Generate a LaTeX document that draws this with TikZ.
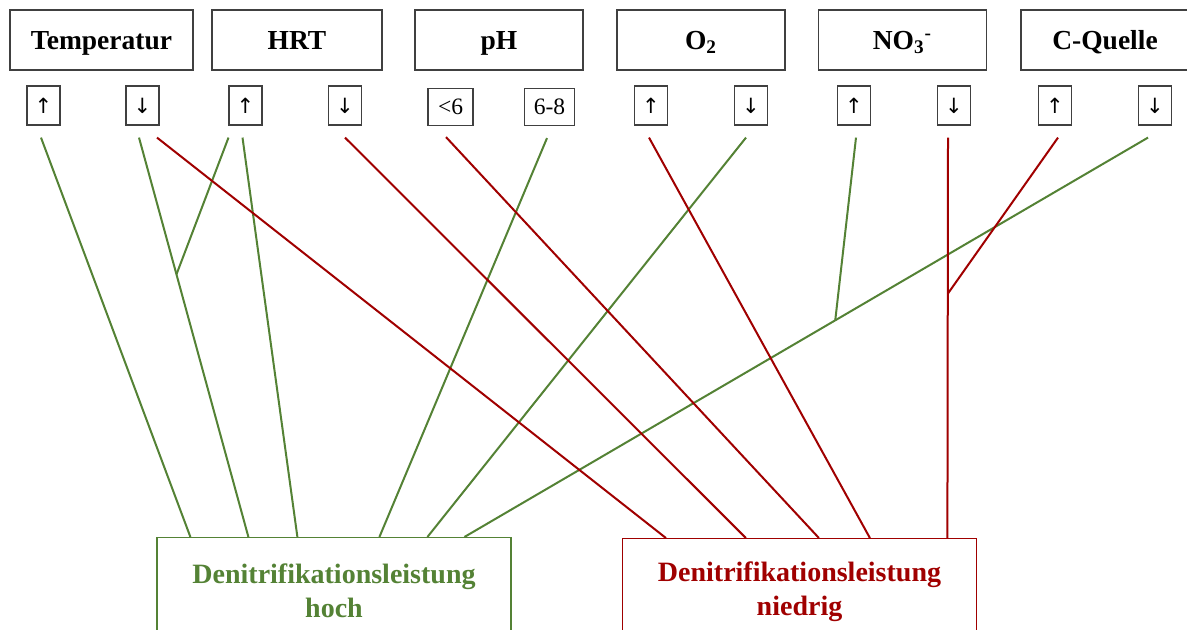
\documentclass[tikz,border=0pt]{standalone}
\usepackage{fontspec}
\setmainfont{Liberation Serif}
\newfontfamily\arrowfont{DejaVu Sans}
\usetikzlibrary{calc}

\definecolor{hochgreen}{RGB}{84,130,53}
\definecolor{niedrigred}{RGB}{160,0,0}
\tikzset{
  factor/.style={draw=black!75,line width=0.7pt,minimum height=30pt,inner sep=0pt,
    text height=9.5pt,text depth=0pt,font=\fontsize{13.75}{16}\selectfont\bfseries},
  trend/.style={draw=black!75,line width=0.6pt,minimum width=16.5pt,minimum height=19.5pt,
    inner sep=0pt,font=\arrowfont\fontsize{10.5}{12}\selectfont},
  phrange/.style={draw=black!75,line width=0.6pt,minimum height=18.5pt,inner sep=0pt,
    font=\fontsize{11.75}{14}\selectfont},
  result/.style={draw,line width=0.6pt,minimum width=177pt,minimum height=53pt,
    align=center,font=\fontsize{14}{17}\selectfont\bfseries},
  hochline/.style={hochgreen,line width=1pt},
  niedrigline/.style={niedrigred,line width=1pt},
}

\begin{document}
\begin{tikzpicture}[x=0.5pt,y=-0.5pt]
  \clip (0,0) rectangle (1187,630);
  % factors
  \node[factor,minimum width=91.5pt] (temp) at (101.5,40) {Temperatur};
  \node[factor,minimum width=85pt] (hrt) at (297,40) {HRT};
  \node[factor,minimum width=84pt] (ph) at (499,40) {pH};
  \node[factor,minimum width=84pt] (otwo) at (701,40) {O\textsubscript{2}};
  \node[factor,minimum width=84pt] (nodrei) at (902.5,40) {NO\textsubscript{3}\textsuperscript{-}};
  \node[factor,minimum width=84pt] (cq) at (1105,40) {C-Quelle};
  % up / down
  \foreach \name/\x/\sym in {tu/43.5/↑,td/142.5/↓,hu/245.5/↑,hd/345/↓,
      ou/651/↑,od/751/↓,nu/854/↑,nd/954/↓,cu/1055/↑,cd/1155/↓}
    \node[trend] (\name) at (\x,105.5) {\sym};
  \node[phrange,minimum width=22.5pt] (pl) at (450.5,107) {<6};
  \node[phrange,minimum width=25pt] (pm) at (549.5,107) {6-8};
  % results
  \node[result,draw=hochgreen,text=hochgreen,anchor=north] (hoch) at (334,537)
    {Denitrifikationsleistung\\hoch};
  \node[result,draw=niedrigred,text=niedrigred,anchor=north] (niedrig) at (799.5,538)
    {Denitrifikationsleistung\\niedrig};
  % green connectors
  \draw[hochline] ($(tu.south)+(-2.5,12)$) -- ($(hoch.north west)+(34,0)$);
  \draw[hochline] ($(td.south)+(-3.5,12)$) -- ($(hoch.north west)+(92,0)$);
  \coordinate (jtd) at ($($(td.south)+(-3.5,12)$)!0.3425!($(hoch.north west)+(92,0)$)$);
  \draw[hochline] ($(hu.south)+(-17,12)$) -- (jtd);
  \draw[hochline] ($(hu.south)+(-3,12)$) -- ($(hoch.north west)+(141,0)$);
  \draw[hochline] ($(pm.south)+(-2.5,12)$) -- ($(hoch.north west)+(223,0)$);
  \draw[hochline] ($(od.south)+(-5,12)$) -- ($(hoch.north west)+(271,0)$);
  \draw[hochline] ($(cd.south)+(-7,12)$) -- ($(hoch.north west)+(308,0)$);
  \coordinate (jcd) at ($($(cd.south)+(-7,12)$)!0.4575!($(hoch.north west)+(308,0)$)$);
  \draw[hochline] ($(nu.south)+(2,12)$) -- (jcd);
  % red connectors
  \draw[niedrigline] ($(td.south)+(14.5,12)$) -- ($(niedrig.north west)+(44,0)$);
  \draw[niedrigline] ($(hd.south)+(0,12)$) -- ($(niedrig.north west)+(124,0)$);
  \draw[niedrigline] ($(pl.south)+(-4.5,11)$) -- ($(niedrig.north west)+(197,0)$);
  \draw[niedrigline] ($(ou.south)+(-2,12)$) -- ($(niedrig.north west)+(248,0)$);
  \draw[niedrigline] ($(nd.south)+(-6,12)$) -- ($(niedrig.north west)+(325.5,0)$);
  \coordinate (jnd) at ($($(nd.south)+(-6,12)$)!0.39!($(niedrig.north west)+(325.5,0)$)$);
  \draw[niedrigline] ($(cu.south)+(3,12)$) -- (jnd);
\end{tikzpicture}
\end{document}
